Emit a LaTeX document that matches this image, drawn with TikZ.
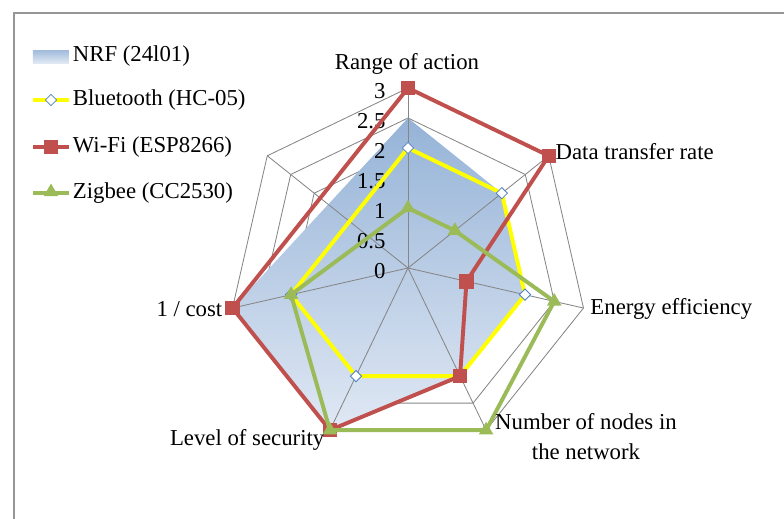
\documentclass[tikz,border=0pt]{standalone}
\usepackage{fontspec}
\setmainfont{Liberation Serif}
\usetikzlibrary{shapes.geometric}

\definecolor{gridgray}{RGB}{134,134,134}
\definecolor{framegray}{RGB}{150,150,150}
\definecolor{nrftop}{RGB}{149,179,215}
\definecolor{nrfbot}{RGB}{224,232,244}
\definecolor{btyellow}{RGB}{255,255,0}
\definecolor{btblue}{RGB}{79,129,189}
\definecolor{wifired}{RGB}{192,80,77}
\definecolor{zbgreen}{RGB}{155,187,89}

\tikzset{
  grid line/.style={gridgray,line width=0.6pt},
  series/.style={line width=2.8pt,line join=round},
  btmark/.style={diamond,draw=btblue,fill=white,line width=0.6pt,inner sep=0pt,minimum size=0.29cm},
  wifimark/.style={rectangle,fill=wifired,inner sep=0pt,minimum size=0.36cm},
  zbmark/.style={regular polygon,regular polygon sides=3,fill=zbgreen,inner sep=0pt,minimum size=0.42cm},
  axlabel/.style={font=\fontsize{16.2}{21.3}\selectfont,inner sep=1pt},
}

\begin{document}
\begin{tikzpicture}
	\def\r{1.5}
	\useasboundingbox (-10.2,-6.25) rectangle (9.4,6.7);
	% chart frame
	\draw[framegray,line width=1.1pt] (-9.85,-6.5) -- (-9.85,6.375) -- (9.6,6.375);
	% rings
	\foreach \v in {0.5,1,1.5,2,2.5,3}
		\draw[grid line] (90:{\v*\r}) \foreach \k in {1,...,6} { -- ({90-\k*360/7}:{\v*\r}) } -- cycle;
	% NRF (24l01)
	\foreach \k/\v in {0/2.5,1/2,2/2,3/2,4/3,5/3}
		\coordinate (nrf\k) at ({90-\k*360/7}:{\v*\r});
	\shade[top color=nrftop,bottom color=nrfbot] (nrf0) -- (nrf1) -- (nrf2) -- (nrf3) -- (nrf4) -- (nrf5) -- cycle;
	% spokes
	\foreach \k in {0,...,6}
		\draw[grid line] (0,0) -- ({90-\k*360/7}:{3*\r}) coordinate (ax\k);
	% scale
	\foreach \v [count=\n] in {0,0.5,1,1.5,2,2.5,3}
		\node[axlabel,anchor=east] (tick\n) at (-0.52,{\v*\r-0.08}) {\v};
	% Bluetooth (HC-05)
	\foreach \k/\v in {0/2,1/2,2/2,3/2,4/2,5/2}
		\coordinate (bt\k) at ({90-\k*360/7}:{\v*\r});
	\draw[series,btyellow] (bt0) -- (bt1) -- (bt2) -- (bt3) -- (bt4) -- (bt5) -- cycle;
	\foreach \k in {0,...,5}
		\node[btmark] at (bt\k) {};
	% Wi-Fi (ESP8266)
	\foreach \k/\v in {0/3,1/3,2/1,3/2,4/3,5/3}
		\coordinate (wf\k) at ({90-\k*360/7}:{\v*\r});
	\draw[series,wifired] (wf0) -- (wf1) -- (wf2) -- (wf3) -- (wf4) -- (wf5) -- cycle;
	\foreach \k in {0,...,5}
		\node[wifimark] at (wf\k) {};
	% Zigbee (CC2530)
	\foreach \k/\v in {0/1,1/1,2/2.5,3/3,4/3,5/2}
		\coordinate (zb\k) at ({90-\k*360/7}:{\v*\r});
	\draw[series,zbgreen] (zb0) -- (zb1) -- (zb2) -- (zb3) -- (zb4) -- (zb5) -- cycle;
	\foreach \k in {0,...,5}
		\node[zbmark] at (zb\k) {};
	% axis labels
	\node[axlabel] (range) at (-0.025,5.1) {Range of action};
	\node[axlabel,anchor=west] (rate) at (3.65,2.92) {Data transfer rate};
	\node[axlabel,anchor=west] (energy) at (4.52,-1.03) {Energy efficiency};
	\node[axlabel,align=center] (nodes) at (4.45,-4.22) {Number of nodes in\\the network};
	\node[axlabel,anchor=east] (security) at (-2.05,-4.3) {Level of security};
	\node[axlabel,anchor=east] (cost) at (-4.6,-1.02) {1 / cost};
	% legend
	\shade[top color=nrftop!90,bottom color=nrfbot] (-9.375,5.125) rectangle (-8.475,5.45);
	\node[axlabel,anchor=west] (lgnrf) at (-8.42,5.3) {NRF (24l01)};
	\draw[series,btyellow] (-9.375,4.2) -- (-8.475,4.2);
	\node[btmark] at (-8.925,4.2) {};
	\node[axlabel,anchor=west] (lgbt) at (-8.42,4.2) {Bluetooth (HC-05)};
	\draw[series,wifired] (-9.375,3.03) -- (-8.475,3.03);
	\node[wifimark] at (-8.925,3.03) {};
	\node[axlabel,anchor=west] (lgwf) at (-8.42,3.03) {Wi-Fi (ESP8266)};
	\draw[series,zbgreen] (-9.375,1.875) -- (-8.475,1.875);
	\node[zbmark] at (-8.925,1.9) {};
	\node[axlabel,anchor=west] (lgzb) at (-8.42,1.875) {Zigbee (CC2530)};
\end{tikzpicture}
\end{document}
